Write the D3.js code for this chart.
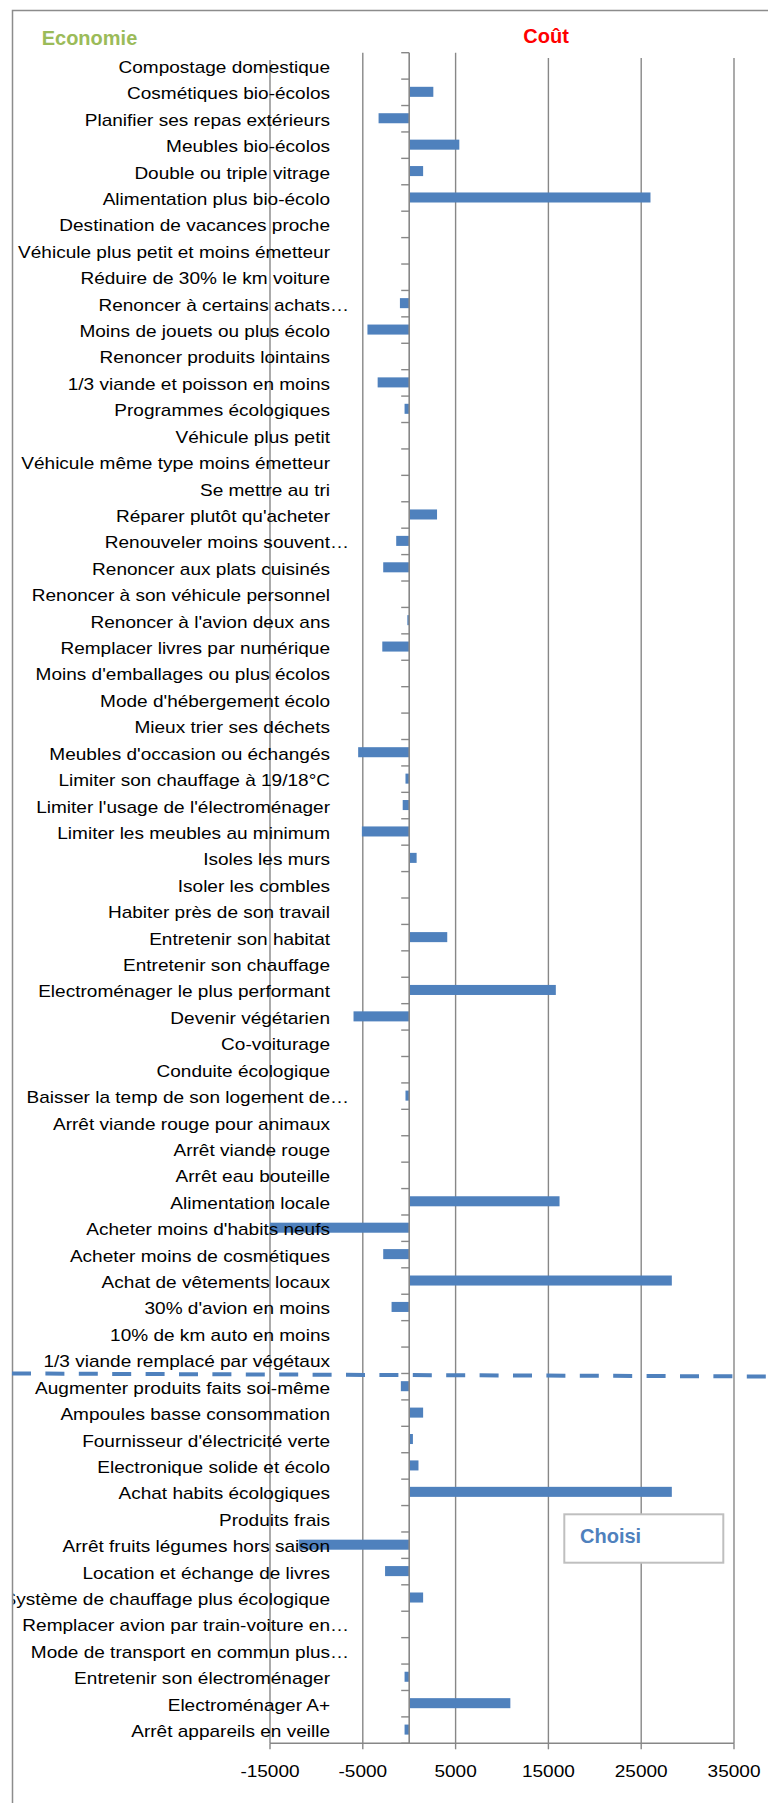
<!DOCTYPE html>
<html>
<head>
<meta charset="utf-8">
<script src="https://cdn.jsdelivr.net/npm/d3@7/dist/d3.min.js"></script>
<style>
  html, body { margin: 0; padding: 0; background: #fff; }
  svg { display: block; }
  text { font-family: "Liberation Sans", Arial, sans-serif; }
</style>
</head>
<body>
<svg id="chart" width="768" height="1803"></svg>
<script>
// ---- Data ----
const categoriesTop = [
  "Compostage domestique", "Cosmétiques bio-écolos", "Planifier ses repas extérieurs",
  "Meubles bio-écolos", "Double ou triple vitrage", "Alimentation plus bio-écolo",
  "Destination de vacances proche", "Véhicule plus petit et moins émetteur",
  "Réduire de 30% le km voiture", "Renoncer à certains achats…",
  "Moins de jouets ou plus écolo", "Renoncer produits lointains",
  "1/3 viande et poisson en moins", "Programmes écologiques", "Véhicule plus petit",
  "Véhicule même type moins émetteur", "Se mettre au tri", "Réparer plutôt qu'acheter",
  "Renouveler moins souvent…", "Renoncer aux plats cuisinés",
  "Renoncer à son véhicule personnel", "Renoncer à l'avion deux ans",
  "Remplacer livres par numérique", "Moins d'emballages ou plus écolos",
  "Mode d'hébergement écolo", "Mieux trier ses déchets", "Meubles d'occasion ou échangés",
  "Limiter son chauffage à 19/18°C", "Limiter l'usage de l'électroménager",
  "Limiter les meubles au minimum", "Isoles les murs", "Isoler les combles",
  "Habiter près de son travail", "Entretenir son habitat", "Entretenir son chauffage",
  "Electroménager le plus performant", "Devenir végétarien", "Co-voiturage",
  "Conduite écologique", "Baisser la temp de son logement de…",
  "Arrêt viande rouge pour animaux", "Arrêt viande rouge", "Arrêt eau bouteille",
  "Alimentation locale", "Acheter moins d'habits neufs", "Acheter moins de cosmétiques",
  "Achat de vêtements locaux", "30% d'avion en moins", "10% de km auto en moins",
  "1/3 viande remplacé par végétaux"
];
const valuesTop = [
  0, 2600, -3300, 5400, 1500, 26000, 0, 0, 0, -1000,
  -4500, 0, -3400, -500, 0, 0, 0, 3000, -1400, -2800,
  0, -200, -2900, 0, 0, 0, -5500, -400, -700, -5100,
  800, 0, 0, 4100, 0, 15800, -6000, 0, 0, -400,
  0, 0, 0, 16200, -15000, -2800, 28300, -1900, 0, 0
];
const categoriesChosen = [
  "Augmenter produits faits soi-même", "Ampoules basse consommation",
  "Fournisseur d'électricité verte", "Electronique solide et écolo",
  "Achat habits écologiques", "Produits frais", "Arrêt fruits légumes hors saison",
  "Location et échange de livres", "Système de chauffage plus écologique",
  "Remplacer avion par train-voiture en…", "Mode de transport en commun plus…",
  "Entretenir son électroménager", "Electroménager A+", "Arrêt appareils en veille"
];
const valuesChosen = [
  -900, 1500, 400, 1000, 28300, 0, -11900, -2600, 1500, 0, 0, -500, 10900, -500
];
const xTicks = [-15000, -5000, 5000, 15000, 25000, 35000];
const xDomain = [-15000, 35000];
const titleLeft = "Economie";
const titleRight = "Coût";
const legendLabel = "Choisi";

// ---- Build ----
const categories = categoriesTop.concat(categoriesChosen);
const values = valuesTop.concat(valuesChosen);
const data = categories.map((c, i) => ({ cat: c, val: values[i] }));

const svg = d3.select("#chart");
const W = 768;
const plotTop = 52.7, plotBottom = 1743.3;
const labelRight = 330, textScale = 1.12;
const gridCol = "#878787", barCol = "#4f81bd";

const x = d3.scaleLinear().domain(xDomain).range([270, 734]);
const y = d3.scaleBand().domain(categories).range([plotTop, plotBottom])
  .paddingInner(0.62).paddingOuter(0.31);
const step = y.step();

// frame
svg.append("rect").attr("x", 12.5).attr("y", 10.5).attr("width", 900).attr("height", 2000)
  .attr("fill", "#fff").attr("stroke", "#8c8c8c").attr("stroke-width", 1.5);

// gridlines
svg.append("g").selectAll("line").data(xTicks).join("line")
  .attr("x1", d => x(d)).attr("x2", d => x(d))
  .attr("y1", plotTop).attr("y2", plotBottom)
  .attr("stroke", gridCol).attr("stroke-width", 1.4);

// title text boxes (white fill covering the top of some gridlines)
svg.append("rect").attr("x", 14).attr("y", 12).attr("width", 290).attr("height", 48).attr("fill", "#fff");
svg.append("rect").attr("x", 490).attr("y", 12).attr("width", 278).attr("height", 46).attr("fill", "#fff");

// bars
svg.append("g").selectAll("rect").data(data).join("rect")
  .attr("x", d => x(Math.min(0, d.val)))
  .attr("width", d => Math.abs(x(d.val) - x(0)))
  .attr("y", d => y(d.cat) - 0.5)
  .attr("height", y.bandwidth())
  .attr("fill", barCol);

// zero (category) axis with ticks at band boundaries
const x0 = x(0);
svg.append("line").attr("x1", x0).attr("x2", x0).attr("y1", plotTop).attr("y2", plotBottom)
  .attr("stroke", gridCol).attr("stroke-width", 1.6);
const bounds = d3.range(categories.length + 1).map(i => plotTop + i * step);
svg.append("g").selectAll("line").data(bounds).join("line")
  .attr("x1", x0 - 8).attr("x2", x0).attr("y1", d => d).attr("y2", d => d)
  .attr("stroke", gridCol).attr("stroke-width", 1.4);

// bottom value axis
svg.append("line").attr("x1", x(xDomain[0])).attr("x2", x(xDomain[1]))
  .attr("y1", plotBottom).attr("y2", plotBottom)
  .attr("stroke", gridCol).attr("stroke-width", 1.6);
svg.append("g").selectAll("line").data(xTicks).join("line")
  .attr("x1", d => x(d)).attr("x2", d => x(d))
  .attr("y1", plotBottom).attr("y2", plotBottom + 6)
  .attr("stroke", gridCol).attr("stroke-width", 1.4);
svg.append("g").selectAll("text").data(xTicks).join("text")
  .attr("transform", d => `translate(${x(d)},1777) scale(${textScale},1)`)
  .attr("text-anchor", "middle").attr("font-size", 17).attr("fill", "#000")
  .text(d => d);

// category labels (clipped at the frame's left edge)
svg.append("clipPath").attr("id", "lblclip").append("rect")
  .attr("x", 13.5).attr("y", 0).attr("width", W).attr("height", 1803);
const lbl = svg.append("g").attr("clip-path", "url(#lblclip)")
  .selectAll("g").data(data).join("g")
  .attr("transform", d => `translate(${labelRight},${y(d.cat) + y.bandwidth() / 2 + 7}) scale(${textScale},1)`);
lbl.append("text").attr("text-anchor", "end").attr("font-size", 17).attr("fill", "#000")
  .text(d => d.cat.endsWith("…") ? d.cat.slice(0, -1) : d.cat);
lbl.filter(d => d.cat.endsWith("…")).append("text")
  .attr("text-anchor", "start").attr("font-size", 17).attr("fill", "#000").text("…");

// dashed separator between the two groups
const sepY = plotTop + categoriesTop.length * step;
svg.append("line").attr("x1", 12).attr("x2", W).attr("y1", sepY).attr("y2", sepY + 3)
  .attr("stroke", barCol).attr("stroke-width", 4).attr("stroke-dasharray", "19,14.4");

// titles
svg.append("text").attr("x", 41.7).attr("y", 45).attr("font-size", 20).attr("font-weight", "bold")
  .attr("fill", "#9bbb59").text(titleLeft);
svg.append("text").attr("x", 523.3).attr("y", 42.7).attr("font-size", 20).attr("font-weight", "bold")
  .attr("fill", "#ff0000").text(titleRight);

// "Choisi" box
svg.append("rect").attr("x", 564.3).attr("y", 1514.3).attr("width", 159).attr("height", 48.4)
  .attr("fill", "#fff").attr("stroke", "#bfbfbf").attr("stroke-width", 2);
svg.append("text").attr("x", 580).attr("y", 1543.3).attr("font-size", 20).attr("font-weight", "bold")
  .attr("fill", barCol).text(legendLabel);
</script>
</body>
</html>
